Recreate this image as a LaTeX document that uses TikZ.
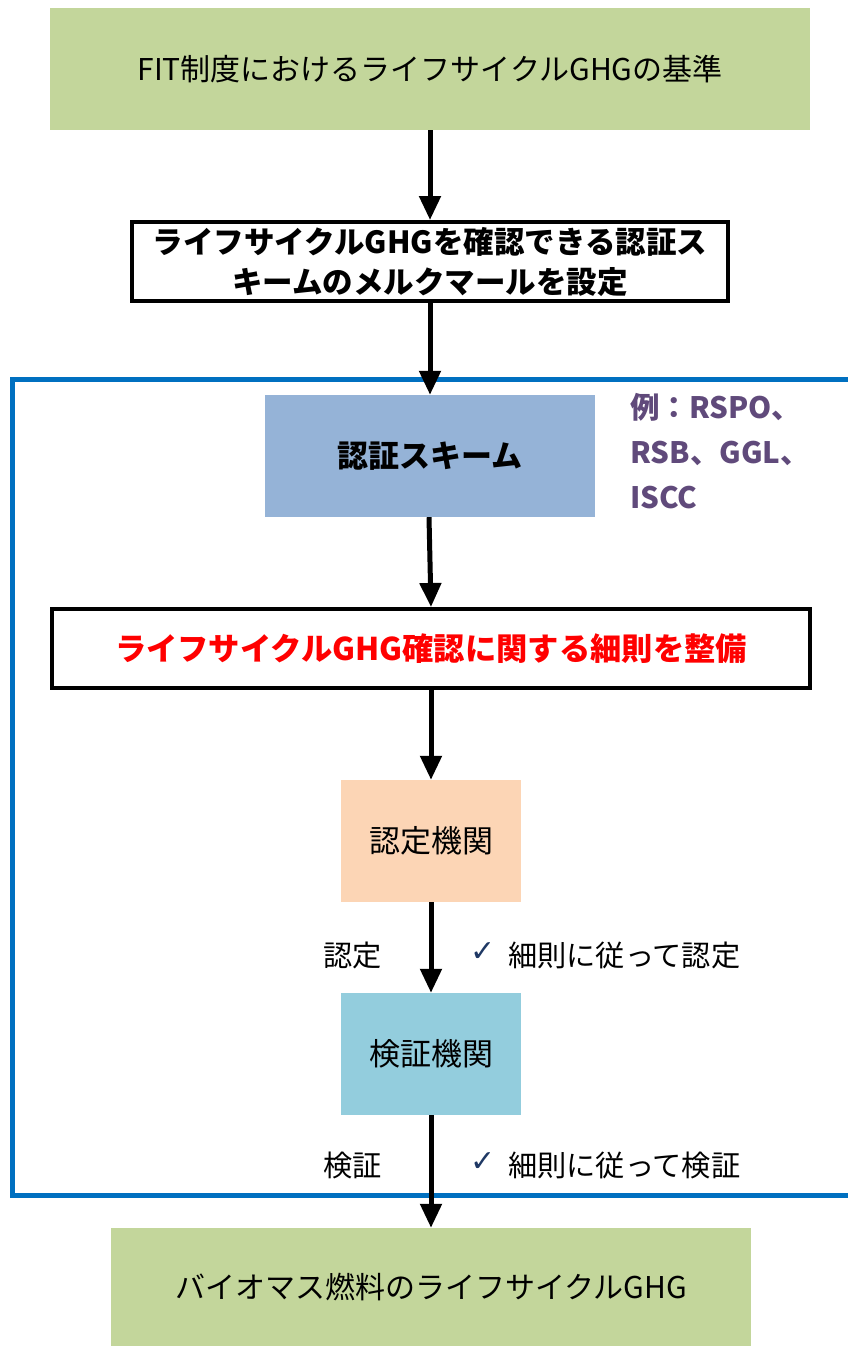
\documentclass[tikz,border=0pt]{standalone}
\usepackage{fontspec}
\setmainfont{Noto Sans CJK JP}
\newfontfamily\symfont{DejaVu Sans}
\usetikzlibrary{arrows.meta}
\definecolor{boxgreen}{HTML}{C3D69B}
\definecolor{schemeblue}{HTML}{95B3D7}
\definecolor{peach}{HTML}{FCD5B5}
\definecolor{lightcyan}{HTML}{93CDDD}
\definecolor{framebl}{HTML}{0070C0}
\definecolor{exviolet}{HTML}{604A7B}
\definecolor{checknavy}{HTML}{1F3864}
\tikzset{
  fillbox/.style={inner sep=0pt, align=center, font=\fontsize{30}{36}\selectfont},
  framedbox/.style={draw=black, line width=4pt, fill=white, inner sep=0pt, align=center, font=\fontsize{30.5}{40}\selectfont\bfseries},
  flow/.style={line width=5pt, -{Triangle[width=21pt,length=24pt]}},
  lbl/.style={inner sep=0pt, font=\fontsize{29.2}{34}\selectfont},
  chk/.style={inner sep=0pt, text=checknavy, font=\symfont\fontsize{30}{32}\selectfont},
}
\begin{document}
\begin{tikzpicture}[x=1pt,y=-1pt]
\useasboundingbox (0,0) rectangle (847,1346);
% blue frame
\draw[framebl, line width=5pt] (870,379) -- (12,379) -- (12,1195) -- (870,1195);
% boxes
\node[fillbox, fill=boxgreen, minimum width=760pt, minimum height=122pt] (fit) at (430,69) {FIT制度におけるライフサイクルGHGの基準};
\node[framedbox, minimum width=596pt, minimum height=79pt] (merk) at (430,261.5) {ライフサイクルGHGを確認できる認証ス\\キームのメルクマールを設定};
\node[fillbox, fill=schemeblue, minimum width=330pt, minimum height=122pt, font=\fontsize{31}{36}\selectfont\bfseries] (scheme) at (430,456) {認証スキーム};
\node[inner sep=0pt, anchor=north west, align=left, text=exviolet, font=\fontsize{29.5}{45}\selectfont\bfseries] (ex) at (630,393) {例：RSPO、\\RSB、GGL、\\ISCC};
\node[framedbox, minimum width=758pt, minimum height=79pt, text=red, font=\fontsize{31.3}{40}\selectfont\bfseries] (rule) at (431,648.5) {ライフサイクルGHG確認に関する細則を整備};
\node[fillbox, fill=peach, minimum width=180pt, minimum height=122pt, font=\fontsize{31}{36}\selectfont] (accr) at (431,841) {認定機関};
\node[fillbox, fill=lightcyan, minimum width=180pt, minimum height=122pt, font=\fontsize{31}{36}\selectfont] (verif) at (431,1054) {検証機関};
\node[fillbox, fill=boxgreen, minimum width=640pt, minimum height=118pt] (ghg) at (431,1287) {バイオマス燃料のライフサイクルGHG};
% labels
\node[lbl, anchor=east] (l1) at (382,955) {認定};
\node[chk, anchor=west] (c1) at (470,952) {✓};
\node[lbl, anchor=west] (r1) at (508,955) {細則に従って認定};
\node[lbl, anchor=east] (l2) at (382,1165) {検証};
\node[chk, anchor=west] (c2) at (470,1162) {✓};
\node[lbl, anchor=west] (r2) at (508,1165) {細則に従って検証};
% arrows
\draw[flow] (fit.south -| 430,0) -- (merk.north -| 430,0);
\draw[flow] (merk.south -| 430,0) -- (scheme.north -| 430,0);
\draw[flow] (scheme.south -| 429,0) -- (rule.north -| 431,0);
\draw[flow] (rule.south -| 431,0) -- (accr.north);
\draw[flow] (accr.south) -- (verif.north);
\draw[flow] (verif.south) -- (ghg.north);
\end{tikzpicture}
\end{document}
